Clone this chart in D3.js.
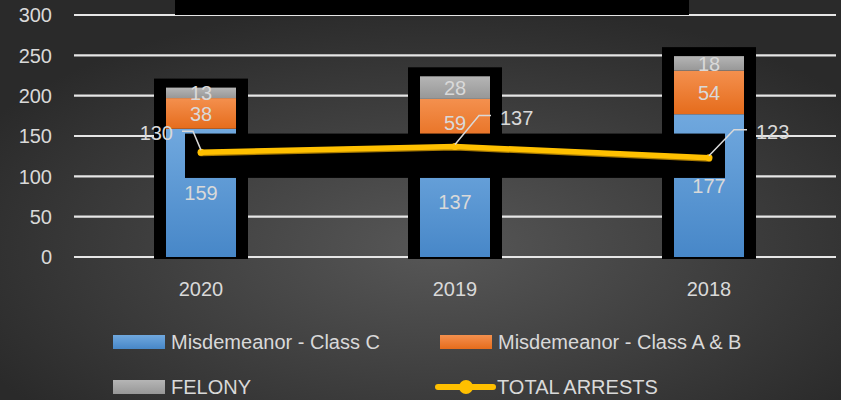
<!DOCTYPE html>
<html>
<head>
<meta charset="utf-8">
<script src="https://cdn.jsdelivr.net/npm/d3@7"></script>
<style>
  html, body { margin: 0; padding: 0; background: #2b2b2b; }
  svg { display: block; font-family: "Liberation Sans", Arial, sans-serif; }
</style>
</head>
<body>
<div id="chart"></div>
<script>
var years = ["2020", "2019", "2018"];
var classC = [159, 137, 177];
var classAB = [38, 59, 54];
var felony = [13, 28, 18];
var totalArrests = [130, 137, 123];
var yTicks = [0, 50, 100, 150, 200, 250, 300];

var seriesNames = ["Misdemeanor - Class C", "Misdemeanor - Class A & B", "FELONY"];
var seriesKeys = ["c", "ab", "f"];

var width = 841, height = 400;
var txt = "#d9d9d9";

var svg = d3.select("#chart").append("svg")
  .attr("width", width)
  .attr("height", height);

var defs = svg.append("defs");

// background gradient
var bg = defs.append("radialGradient").attr("id", "bg")
  .attr("cx", "52%").attr("cy", "62%").attr("r", "62%");
bg.append("stop").attr("offset", "0%").attr("stop-color", "#575757");
bg.append("stop").attr("offset", "100%").attr("stop-color", "#2a2a2a");

function vgrad(id, top, bottom) {
  var g = defs.append("linearGradient").attr("id", id)
    .attr("x1", 0).attr("y1", 0).attr("x2", 0).attr("y2", 1);
  g.append("stop").attr("offset", "0%").attr("stop-color", top);
  g.append("stop").attr("offset", "100%").attr("stop-color", bottom);
}
vgrad("g_c", "#70a8de", "#4787c8");
vgrad("g_ab", "#f4904e", "#e56c1c");
vgrad("g_f", "#b5b5b5", "#979797");
var fills = {c: "url(#g_c)", ab: "url(#g_ab)", f: "url(#g_f)"};
var legendFills = {c: "#5b9bd5", ab: "#ed7d31", f: "#a5a5a5"};

svg.append("rect").attr("width", width).attr("height", height).attr("fill", "url(#bg)");

// scales
var x = d3.scaleBand().domain(years).range([74, 836]).padding(0);
var y = d3.scaleLinear().domain([0, 300]).range([257, 15]);
var barW = 70;
function cx(d) { return x(d) + x.bandwidth() / 2; }

// gridlines
svg.append("g").selectAll("line")
  .data(yTicks).enter().append("line")
  .attr("x1", 74).attr("x2", 836)
  .attr("y1", function(d) { return y(d); })
  .attr("y2", function(d) { return y(d); })
  .attr("stroke", "#e6e6e6")
  .attr("stroke-width", 2.2);

// y tick labels
svg.append("g").selectAll("text")
  .data(yTicks).enter().append("text")
  .attr("x", 52)
  .attr("y", function(d) { return y(d); })
  .attr("dy", "0.36em")
  .attr("text-anchor", "end")
  .attr("fill", txt)
  .style("font-size", "20px")
  .text(function(d) { return d; });

// x labels
svg.append("g").selectAll("text")
  .data(years).enter().append("text")
  .attr("x", function(d) { return cx(d); })
  .attr("y", 296)
  .attr("text-anchor", "middle")
  .attr("fill", txt)
  .style("font-size", "20px")
  .text(function(d) { return d; });

// stack data
var rows = years.map(function(yr, i) {
  return {year: yr, c: classC[i], ab: classAB[i], f: felony[i]};
});
var stacked = d3.stack().keys(seriesKeys)(rows);

// black frames behind bars
svg.append("g").selectAll("rect")
  .data(rows).enter().append("rect")
  .attr("x", function(d) { return cx(d.year) - barW / 2 - 12; })
  .attr("width", barW + 24)
  .attr("y", function(d) { return y(d.c + d.ab + d.f) - 9; })
  .attr("height", function(d) { return y(0) - y(d.c + d.ab + d.f) + 11; })
  .attr("fill", "#000");

// bars
stacked.forEach(function(s) {
  svg.append("g").selectAll("rect")
    .data(s).enter().append("rect")
    .attr("x", function(d) { return cx(d.data.year) - barW / 2; })
    .attr("width", barW)
    .attr("y", function(d) { return y(d[1]); })
    .attr("height", function(d) { return y(d[0]) - y(d[1]); })
    .attr("fill", fills[s.key]);
});

// bar labels
stacked.forEach(function(s) {
  svg.append("g").selectAll("text")
    .data(s).enter().append("text")
    .attr("x", function(d) { return cx(d.data.year); })
    .attr("y", function(d) { return y((d[0] + d[1]) / 2); })
    .attr("dy", "0.36em")
    .attr("text-anchor", "middle")
    .attr("fill", txt)
    .style("font-size", "20px")
    .text(function(d) { return d[1] - d[0]; });
});

// black band behind the line
svg.append("rect")
  .attr("x", cx(years[0]) - 16)
  .attr("width", cx(years[2]) - cx(years[0]) + 32)
  .attr("y", y(153))
  .attr("height", y(98) - y(153))
  .attr("fill", "#000");

// black box at top
svg.append("rect")
  .attr("x", 175).attr("y", -5)
  .attr("width", 514).attr("height", 20)
  .attr("fill", "#000");

// total line
var line = d3.line()
  .x(function(d, i) { return cx(years[i]); })
  .y(function(d) { return y(d); });

svg.append("path")
  .datum(totalArrests)
  .attr("d", line)
  .attr("transform", "translate(0,1)")
  .attr("fill", "none")
  .attr("stroke", "#a87a00")
  .attr("stroke-width", 6)
  .attr("stroke-linecap", "round");
svg.append("path")
  .datum(totalArrests)
  .attr("d", line)
  .attr("fill", "none")
  .attr("stroke", "#ffc000")
  .attr("stroke-width", 5.5)
  .attr("stroke-linecap", "round")
  .attr("stroke-linejoin", "round");

svg.append("g").selectAll("circle")
  .data(totalArrests).enter().append("circle")
  .attr("cx", function(d, i) { return cx(years[i]); })
  .attr("cy", function(d) { return y(d); })
  .attr("r", 3.5)
  .attr("fill", "#ffc000");

// leader lines and labels for the total line
var leadDx = [-8, 24, 25], leadDy = [-19, -29, -26], leadH = [-11, 12, 13];
totalArrests.forEach(function(v, i) {
  var px = cx(years[i]), py = y(v) - 2;
  var ex = px + leadDx[i], ey = py + leadDy[i];
  svg.append("polyline")
    .attr("points", [px, py, ex, ey, ex + leadH[i], ey].join(","))
    .attr("fill", "none")
    .attr("stroke", txt)
    .attr("stroke-width", 1.5);
  svg.append("text")
    .attr("x", ex + leadH[i] + (leadH[i] < 0 ? -9 : 9))
    .attr("y", ey + 2)
    .attr("dy", "0.36em")
    .attr("text-anchor", leadH[i] < 0 ? "end" : "start")
    .attr("fill", txt)
    .style("font-size", "20px")
    .text(v);
});

// legend
var legendPos = [[113, 342], [440, 342], [113, 387]];
seriesKeys.forEach(function(k, i) {
  var p = legendPos[i];
  svg.append("rect")
    .attr("x", p[0]).attr("y", p[1] - 7)
    .attr("width", 52).attr("height", 14)
    .attr("fill", fills[k]);
  svg.append("text")
    .attr("x", p[0] + 58).attr("y", p[1])
    .attr("dy", "0.36em")
    .attr("fill", txt)
    .style("font-size", "20px")
    .text(seriesNames[i]);
});
svg.append("line")
  .attr("x1", 438).attr("x2", 493)
  .attr("y1", 387).attr("y2", 387)
  .attr("stroke", "#ffc000")
  .attr("stroke-width", 6)
  .attr("stroke-linecap", "round");
svg.append("circle")
  .attr("cx", 466).attr("cy", 387).attr("r", 7)
  .attr("fill", "#ffc000");
svg.append("text")
  .attr("x", 497).attr("y", 387)
  .attr("dy", "0.36em")
  .attr("fill", txt)
  .style("font-size", "20px")
  .text("TOTAL ARRESTS");
</script>
</body>
</html>
